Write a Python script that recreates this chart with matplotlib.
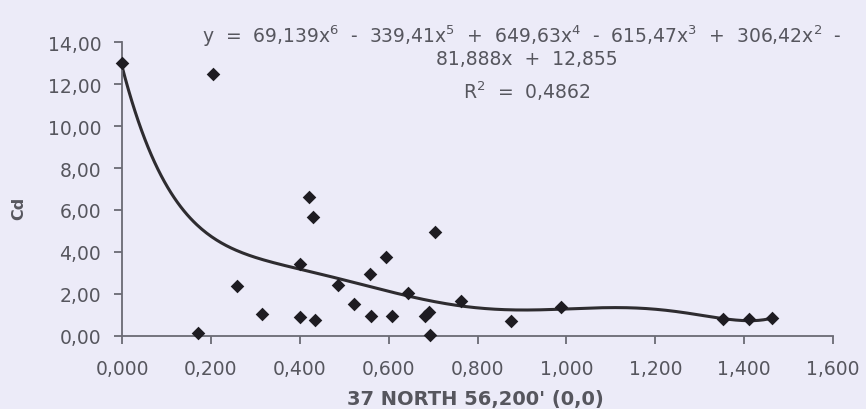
import numpy as np
import matplotlib
matplotlib.use("Agg")
import matplotlib.pyplot as plt
from matplotlib.ticker import FuncFormatter, MultipleLocator

plt.rcParams['font.family'] = ['DejaVu Sans']
plt.rcParams['mathtext.default'] = 'regular'

# Cd measurements against distance
x_vals = [0.000, 0.205, 0.172, 0.259, 0.314, 0.401, 0.401, 0.434, 0.421, 0.430,
          0.487, 0.557, 0.594, 0.705, 0.522, 0.560, 0.608, 0.643, 0.682, 0.691,
          0.693, 0.762, 0.875, 0.988, 1.353, 1.412, 1.462]
cd_vals = [13.00, 12.47, 0.14, 2.38, 1.04, 3.40, 0.89, 0.74, 6.63, 5.64,
           2.42, 2.96, 3.74, 4.95, 1.50, 0.94, 0.92, 2.02, 0.95, 1.14,
           0.03, 1.67, 0.72, 1.39, 0.80, 0.82, 0.85]

# 6th-order polynomial trendline (highest power first)
poly_coef = [69.139, -339.41, 649.63, -615.47, 306.42, -81.888, 12.855]
r_squared = 0.4862

bg = '#ecebf8'
txt = '#56565e'
axc = '#6a6a74'


def comma(v, nd):
    return f"{v:.{nd}f}".replace('.', ',')


fig = plt.figure(figsize=(8.66, 4.10), dpi=100, facecolor=bg)
ax = fig.add_axes([0.1409, 0.1788, 0.8210, 0.7156], facecolor=bg)

xs = np.linspace(min(x_vals), max(x_vals), 400)
ax.plot(xs, np.polyval(poly_coef, xs), color='#2e2c30', lw=2.2, zorder=2)
ax.scatter(x_vals, cd_vals, marker='D', s=48, color='#1e1c22', zorder=3,
           linewidths=0, clip_on=False)

ax.set_xlim(0, 1.6)
ax.set_ylim(0, 14)
ax.xaxis.set_major_locator(MultipleLocator(0.2))
ax.yaxis.set_major_locator(MultipleLocator(2))
ax.xaxis.set_major_formatter(FuncFormatter(lambda v, p: comma(v, 3)))
ax.yaxis.set_major_formatter(FuncFormatter(lambda v, p: comma(v, 2)))

for s in ['top', 'right']:
    ax.spines[s].set_visible(False)
for s in ['left', 'bottom']:
    ax.spines[s].set_color(axc)
    ax.spines[s].set_linewidth(1.3)
ax.tick_params(axis='both', direction='out', length=6, width=1.3, color=axc,
               labelcolor=txt, labelsize=13.5)
ax.tick_params(axis='x', pad=11)
ax.tick_params(axis='y', pad=9)

fig.text(475 / 866, 1 - 400 / 410, "37 NORTH 56,200' (0,0)", ha='center',
         va='center', fontsize=14, fontweight='bold', color=txt)
fig.text(19 / 866, 1 - 208 / 410, "Cd", ha='center', va='center', rotation=90,
         fontsize=11.5, fontweight='bold', color=txt)

# trendline equation and R², one text per line
eq_lines = [
    "y  =  69,139x$^{6}$  -  339,41x$^{5}$  +  649,63x$^{4}$  -  615,47x$^{3}$  +  306,42x$^{2}$  -",
    "81,888x  +  12,855",
    "R$^{2}$  =  " + comma(r_squared, 4),
]
eq_x = [521.5, 526.5, 526.5]
eq_base = [43, 65, 99]
for line, xp, yb in zip(eq_lines, eq_x, eq_base):
    fig.text(xp / 866, 1 - yb / 410, line, ha='center', va='baseline',
             fontsize=13.5, color=txt)

fig.savefig("out.png", dpi=100, facecolor=bg)
